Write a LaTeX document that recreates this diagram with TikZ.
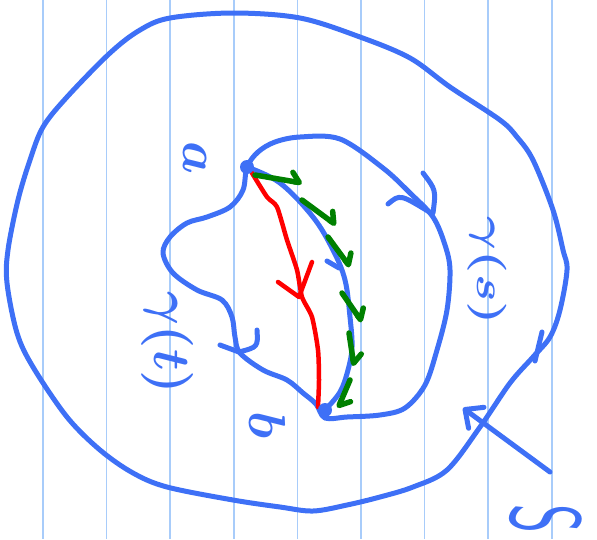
\documentclass[tikz,border=0pt]{standalone}
\usepackage{tikz}
\usetikzlibrary{arrows.meta}
\definecolor{pen}{RGB}{62,112,246}
\definecolor{rule}{RGB}{168,204,250}
\definecolor{grn}{RGB}{0,128,0}
\tikzset{
  ink/.style={draw=pen,line width=5pt,line cap=round,line join=round},
  redink/.style={draw=red,line width=4.5pt,line cap=round,line join=round},
  grnarr/.style={draw=grn,line width=5.5pt,line cap=round,line join=round,
    -{Straight Barb[left,length=8pt,width=18pt,round]}},
  lbl/.style={text=pen,inner sep=0pt,rotate=-90,scale=5.2,font=\boldmath},
}

\begin{document}
\begin{tikzpicture}[x=1pt,y=-1pt]
  \useasboundingbox (0,0) rectangle (597,539);
  \foreach \i in {0,...,8}
    \draw[rule,line width=1.5pt] ({43+63.6*\i},0) -- ({43+63.6*\i},539);

  \coordinate (pa) at (247,167);
  \coordinate (pb) at (325,410);

  \draw[ink] plot[smooth cycle,tension=0.55] coordinates {
    (563,250) (553,210) (533,160) (517,137) (500,120) (450,87) (410,58)
    (360,37) (300,18) (233,13) (170,18) (140,30) (110,53) (67,97) (43,127)
    (30,160) (18,200) (8,250) (7,283) (17,333) (33,367) (67,417) (100,450)
    (133,473) (167,487) (233,500) (280,507) (313,511) (347,505) (380,497)
    (413,487) (447,470) (480,427) (510,383) (533,357) (550,337) (560,310)
    (567,270)};
  \draw[ink] (542,332) -- (535,361);

  \draw[ink] plot[smooth cycle,tension=0.55] coordinates {
    (pa) (258,152) (275,142) (300,137) (340,139) (383,168) (410,193)
    (433,217) (445,245) (450,270) (447,310) (437,350) (425,385) (405,408)
    (380,415) (347,417) (325,418) (316,404) (303,393) (287,380) (263,370)
    (240,353) (235,337) (232,317) (222,300) (197,290) (173,273) (163,253)
    (170,237) (187,223) (207,217) (230,207) (243,190)};
  \draw[ink] (388,204) .. controls (400,194) .. (431,213);
  \draw[ink] (423,173) .. controls (436,190) .. (433,213);
  \draw[ink] (220,345) -- (239,352);
  \draw[ink] (257,330) .. controls (258,347) .. (239,352);

  \draw[ink] plot[smooth,tension=0.6] coordinates {
    (pa) (280,183) (313,217) (333,250) (345,280) (350,317) (352,347)
    (348,370) (340,392) (pb)};
  \draw[ink] (327,261) -- (339,268);

  \draw[redink] plot[smooth,tension=0.4] coordinates {
    (252,173) (267,197) (277,207) (287,240) (297,270) (302,297) (312,317)
    (318,350) (319,380) (318,407)};
  \draw[redink] (278,282) -- (299,297) -- (312,262);

  \foreach \sx/\sy/\ex/\ey in {255/175/302/183, 302/200/336/225,
      328/237/350/267, 342/293/362/322, 349/333/354/366, 350/380/338/408}
    \draw[grnarr] (\sx,\sy) -- (\ex,\ey);

  \fill[pen] (pa) circle (7pt);
  \fill[pen] (pb) circle (7pt);

  \node[lbl] (la) at (195,158) {$a$};
  \node[lbl] (lb) at (268,425) {$b$};
  \node[lbl,yscale=0.75] (gs) at (487,271) {$\gamma(s)$};
  \node[lbl] (gt) at (167,343) {$\gamma(t)$};
  \node[lbl,font=\sffamily,yscale=1.9] (surf) at (546,519) {S};

  \coordinate (stail) at (550,472);
  \coordinate (shead) at (463,408);
  \draw[ink,-{Straight Barb[length=14pt,width=26pt,round]}] (stail) -- (shead);
\end{tikzpicture}
\end{document}
